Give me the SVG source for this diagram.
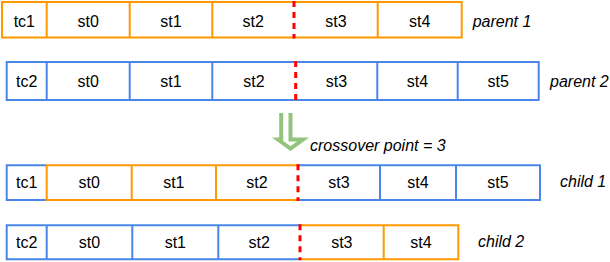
<svg xmlns="http://www.w3.org/2000/svg" width="610" height="262" viewBox="0 0 610 262">
<style>
  .o { fill: none; stroke: #ff9900; stroke-width: 2; }
  .b { fill: none; stroke: #4a86e8; stroke-width: 2; }
  .cut { stroke: #ff0000; stroke-width: 3; stroke-dasharray: 6 5; fill: none; }
  .t { font-family: "Liberation Sans", Arial, sans-serif; font-size: 16px; fill: #000; text-anchor: middle; }
  .lbl { font-family: "Liberation Sans", Arial, sans-serif; font-size: 16px; font-style: italic; fill: #000; }
  .arrow { fill: none; stroke: #93c47d; stroke-width: 4; }
</style>
<rect width="610" height="262" fill="#fff"/>

<g id="parent1">
  <path class="o" d="M294,2 H2 V37.5 H294 M294,2 H461.7 V37.5 H294 M46.7,2 V37.5 M129.7,2 V37.5 M212.3,2 V37.5 M377.7,2 V37.5"/>
  <line class="cut" x1="294" y1="1" x2="294" y2="38.5"/>
  <text class="t" x="24.3" y="27">tc1</text>
  <text class="t" x="88.2" y="27">st0</text>
  <text class="t" x="171" y="27">st1</text>
  <text class="t" x="253.2" y="27">st2</text>
  <text class="t" x="335.9" y="27">st3</text>
  <text class="t" x="419.7" y="27">st4</text>
  <text class="lbl" x="472.7" y="26.5">parent 1</text>
</g>

<g id="parent2">
  <path class="b" d="M295.7,62 H6.7 V100 H295.7 M295.7,62 H538.7 V100 H295.7 M46.7,62 V100 M129.7,62 V100 M212.3,62 V100 M377.3,62 V100 M457.7,62 V100"/>
  <line class="cut" x1="295.7" y1="61" x2="295.7" y2="101"/>
  <text class="t" x="26.7" y="87.3">tc2</text>
  <text class="t" x="88.2" y="87.3">st0</text>
  <text class="t" x="171" y="87.3">st1</text>
  <text class="t" x="254" y="87.3">st2</text>
  <text class="t" x="336.5" y="87.3">st3</text>
  <text class="t" x="417.5" y="87.3">st4</text>
  <text class="t" x="498.2" y="87.3">st5</text>
  <text class="lbl" x="550" y="87.3">parent 2</text>
</g>

<g id="crossover">
  <text class="lbl" x="310" y="150.5">crossover point = 3</text>
</g>

<g id="child1">
  <path class="b" d="M46.7,165.3 H6.7 V200 H46.7 M298,165.3 H540 V200 H298 M380,165.3 V200 M456,165.3 V200"/>
  <path class="o" d="M298,165.3 H46.7 V200 H298 M131.7,165.3 V200 M216,165.3 V200"/>
  <line class="cut" x1="298" y1="164.3" x2="298" y2="201"/>
  <text class="t" x="26.7" y="188.3">tc1</text>
  <text class="t" x="89.2" y="188.3">st0</text>
  <text class="t" x="173.8" y="188.3">st1</text>
  <text class="t" x="257" y="188.3">st2</text>
  <text class="t" x="339" y="188.3">st3</text>
  <text class="t" x="418" y="188.3">st4</text>
  <text class="t" x="498" y="188.3">st5</text>
  <text class="lbl" x="560" y="186.7">child 1</text>
</g>

<g id="child2">
  <path class="b" d="M300,225.3 H6.7 V259.3 H300 M46.7,225.3 V259.3 M132.3,225.3 V259.3 M218.3,225.3 V259.3"/>
  <path class="o" d="M300,225.3 H458.3 V259.3 H300 M383.7,225.3 V259.3"/>
  <line class="cut" x1="300" y1="224.3" x2="300" y2="260.3"/>
  <text class="t" x="26.7" y="248">tc2</text>
  <text class="t" x="89.5" y="248">st0</text>
  <text class="t" x="175.3" y="248">st1</text>
  <text class="t" x="259.2" y="248">st2</text>
  <text class="t" x="341.8" y="248">st3</text>
  <text class="t" x="421" y="248">st4</text>
  <text class="lbl" x="478" y="246.7">child 2</text>
</g>

<g id="connectors">
  <path class="arrow" d="M281.2,113 V139.5 H278 L290.5,148.5 L303,139.5 H290.5 V113"/>
</g>
</svg>
